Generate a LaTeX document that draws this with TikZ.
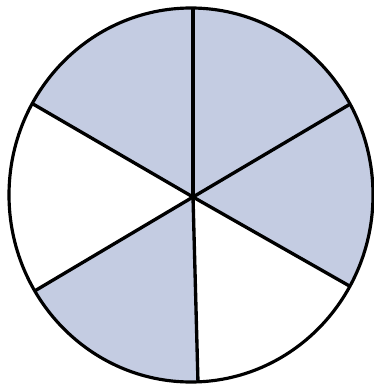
\documentclass[tikz,border=0pt]{standalone}
\usepackage{tikz}
\usetikzlibrary{calc}
\definecolor{sectorblue}{RGB}{196,204,226}

\begin{document}
\begin{tikzpicture}[x=0.02cm,y=-0.02cm,
  spoke/.style={line width=1.9pt,black},
  rim/.style={line width=1.8pt,black}]
\useasboundingbox (0,0) rectangle (374,385);
\coordinate (c) at (193,197);
\coordinate (t) at (193,8);
\coordinate (ur) at (352,103);
\coordinate (lr) at (353,288);
\coordinate (b) at (198,383);
\coordinate (ll) at (38,289);
\coordinate (ul) at (33,104);

\begin{scope}
\clip (191,195) ellipse [x radius=182, y radius=187];
\fill[sectorblue] (c) -- ($(c)!1.6!(ul)$) -- ($(c)!1.6!(t)$)
  -- ($(c)!1.6!(ur)$) -- ($(c)!1.6!(lr)$) -- cycle;
\fill[sectorblue] (c) -- ($(c)!1.6!(ll)$) -- ($(c)!1.6!(b)$) -- cycle;
\foreach \p in {t,ur,lr,b,ll,ul}{
  \draw[spoke] (c) -- ($(c)!1.2!(\p)$);
}
\end{scope}
\draw[rim] (191,195) ellipse [x radius=182, y radius=187];
\end{tikzpicture}
\end{document}
